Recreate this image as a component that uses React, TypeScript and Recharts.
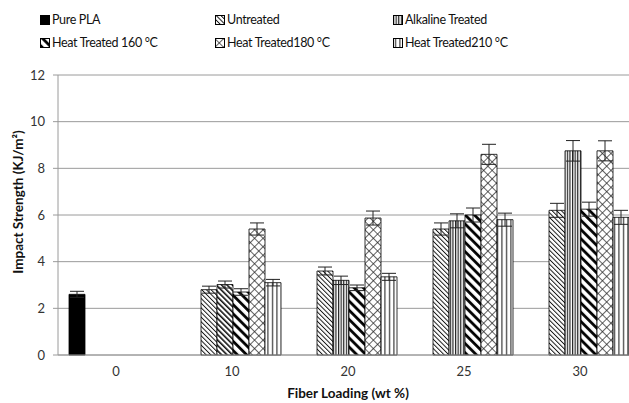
import React from 'react';
import { BarChart, Bar, XAxis, YAxis, CartesianGrid, ErrorBar, Legend, Cell } from 'recharts';

const categories = ['0', '10', '20', '25', '30'];
const seriesNames = [
  'Pure PLA',
  'Untreated',
  'Alkaline Treated',
  'Heat Treated 160 °C',
  'Heat Treated180 °C',
  'Heat Treated210 °C',
];
const pureVals = [2.6, null, null, null, null];
const pureErr = [0.13, null, null, null, null];
const untreatedVals = [null, 2.8, 3.6, 5.4, 6.2];
const untreatedErr = [null, 0.15, 0.17, 0.26, 0.3];
const alkalineVals = [null, 3.02, 3.2, 5.75, 8.75];
const alkalineErr = [null, 0.15, 0.18, 0.3, 0.44];
const heat160Vals = [null, 2.7, 2.88, 6.0, 6.25];
const heat160Err = [null, 0.14, 0.12, 0.3, 0.3];
const heat180Vals = [null, 5.4, 5.87, 8.6, 8.75];
const heat180Err = [null, 0.26, 0.3, 0.43, 0.43];
const heat210Vals = [null, 3.1, 3.35, 5.8, 5.9];
const heat210Err = [null, 0.14, 0.15, 0.28, 0.3];
const yTicks = [0, 2, 4, 6, 8, 10, 12];
const boundaryTicks = [0, 1, 2, 3, 4, 5];

const keys = ['pure', 'untreated', 'alkaline', 'heat160', 'heat180', 'heat210'];
const fills = [
  '#000000',
  'url(#pUntreated)',
  'url(#pAlk)',
  'url(#pH160)',
  'url(#pH180)',
  'url(#pH210)',
];

const data = categories.map((c, i) => ({
  cat: c,
  pure: pureVals[i],
  pureErr: pureErr[i],
  untreated: untreatedVals[i],
  untreatedErr: untreatedErr[i],
  alkaline: alkalineVals[i],
  alkalineErr: alkalineErr[i],
  heat160: heat160Vals[i],
  heat160Err: heat160Err[i],
  heat180: heat180Vals[i],
  heat180Err: heat180Err[i],
  heat210: heat210Vals[i],
  heat210Err: heat210Err[i],
}));

const FONT = 'Lato, "Open Sans", sans-serif';
const legendPos = [
  [40, 13],
  [215, 13],
  [393, 13],
  [40, 36],
  [215, 36],
  [393, 36],
];

function renderLegend() {
  return (
    <div style={{ position: 'relative', width: 629, height: 60, fontFamily: FONT }}>
      {seriesNames.map((n, i) => (
        <div
          key={n}
          style={{
            position: 'absolute',
            left: legendPos[i][0],
            top: legendPos[i][1],
            display: 'flex',
            alignItems: 'center',
            fontSize: 12.5,
            letterSpacing: -0.35,
            color: '#111',
            whiteSpace: 'nowrap',
            lineHeight: '14px',
          }}
        >
          <svg width={10} height={10} style={{ marginRight: 2 }}>
            <rect x={0.5} y={0.5} width={9} height={9} fill={fills[i]} stroke="#000" strokeWidth={1} />
          </svg>
          <span>{n}</span>
        </div>
      ))}
    </div>
  );
}

function YLabel(props: any) {
  const vb = props.viewBox;
  const cx = 18;
  const cy = vb.y + vb.height / 2 - 13;
  return (
    <text
      x={cx}
      y={cy}
      transform={`rotate(-90 ${cx} ${cy})`}
      textAnchor="middle"
      dominantBaseline="central"
      fontFamily={FONT}
      fontWeight="bold"
      fontSize={13.5}
      fill="#111"
    >
      Impact Strength (KJ/m²)
    </text>
  );
}

function XLabel(props: any) {
  const vb = props.viewBox;
  return (
    <text
      x={vb.x + vb.width / 2}
      y={393}
      textAnchor="middle"
      dominantBaseline="central"
      fontFamily={FONT}
      fontWeight="bold"
      fontSize={13.5}
      fill="#111"
    >
      Fiber Loading (wt %)
    </text>
  );
}

export default function App() {
  return (
    <div style={{ position: 'absolute', left: 0, top: 0, width: 629, height: 403, overflow: 'hidden', background: '#fff' }}>
      <BarChart
        width={650}
        height={403}
        data={data}
        margin={{ top: 15, right: 12, bottom: 0, left: 18 }}
        barCategoryGap={11}
        barGap={0}
      >
        <defs>
          <pattern id="pUntreated" patternUnits="userSpaceOnUse" width={3.3} height={10} patternTransform="rotate(-45)">
            <rect width={3.3} height={10} fill="#fff" />
            <line x1={0.5} y1={0} x2={0.5} y2={10} stroke="#000" strokeWidth={0.9} />
          </pattern>
          <pattern id="pAlk" patternUnits="userSpaceOnUse" width={2.6} height={10}>
            <rect width={2.6} height={10} fill="#fff" />
            <line x1={0.6} y1={0} x2={0.6} y2={10} stroke="#111" strokeWidth={1.1} />
          </pattern>
          <pattern id="pAlk10" patternUnits="userSpaceOnUse" width={3.8} height={10} patternTransform="rotate(-45)">
            <rect width={3.8} height={10} fill="#fff" />
            <line x1={0.8} y1={0} x2={0.8} y2={10} stroke="#000" strokeWidth={1.5} />
          </pattern>
          <pattern id="pH160" patternUnits="userSpaceOnUse" width={6.5} height={10} patternTransform="rotate(-45)">
            <rect width={6.5} height={10} fill="#fff" />
            <line x1={1.5} y1={0} x2={1.5} y2={10} stroke="#000" strokeWidth={2.8} />
          </pattern>
          <pattern id="pH180" patternUnits="userSpaceOnUse" width={6} height={6} patternTransform="rotate(45)">
            <rect width={6} height={6} fill="#fff" />
            <line x1={0.4} y1={0} x2={0.4} y2={6} stroke="#222" strokeWidth={0.8} />
            <line x1={0} y1={0.4} x2={6} y2={0.4} stroke="#222" strokeWidth={0.8} />
          </pattern>
          <pattern id="pH210" patternUnits="userSpaceOnUse" width={4.5} height={10}>
            <rect width={4.5} height={10} fill="#fff" />
            <line x1={2.5} y1={0} x2={2.5} y2={10} stroke="#111" strokeWidth={1} />
          </pattern>
        </defs>
        <CartesianGrid xAxisId="c" vertical={false} stroke="#9a9a9a" strokeWidth={1} />
        <XAxis
          xAxisId="b"
          type="number"
          domain={[0, 5]}
          ticks={boundaryTicks}
          tick={false}
          axisLine={false}
          tickLine={{ stroke: '#9a9a9a' }}
          tickSize={5}
          height={0}
        />
        <XAxis
          xAxisId="c"
          dataKey="cat"
          tickLine={false}
          axisLine={{ stroke: '#9a9a9a' }}
          tick={{ fill: '#333', fontSize: 13, fontFamily: FONT }}
          tickMargin={6}
          height={48}
          label={<XLabel />}
        />
        <YAxis
          domain={[0, 12]}
          ticks={yTicks}
          axisLine={{ stroke: '#9a9a9a' }}
          tickLine={{ stroke: '#9a9a9a' }}
          tickSize={5}
          tickMargin={8}
          tick={{ fill: '#333', fontSize: 13, fontFamily: FONT }}
          width={40}
          label={<YLabel />}
        />
        <Legend verticalAlign="top" content={renderLegend} wrapperStyle={{ top: 0, left: 0, width: 629, height: 60 }} />
        {keys.map((k, si) => (
          <Bar
            key={k}
            xAxisId="c"
            dataKey={k}
            name={seriesNames[si]}
            fill={fills[si]}
            stroke="#000"
            strokeWidth={0.8}
            isAnimationActive={false}
          >
            {k === 'alkaline' &&
              data.map((d, i) => <Cell key={i} fill={d.cat === '10' ? 'url(#pAlk10)' : fills[si]} />)}
            <ErrorBar dataKey={k + 'Err'} width={7} stroke="#222" strokeWidth={1} direction="y" />
          </Bar>
        ))}
      </BarChart>
    </div>
  );
}
